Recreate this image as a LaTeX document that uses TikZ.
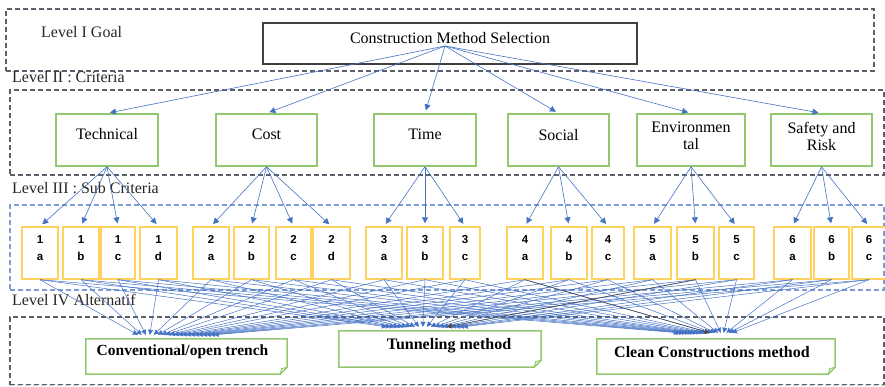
\documentclass[tikz,border=0pt]{standalone}
\usepackage{fontspec}
\setmainfont{Liberation Serif}
\newfontfamily\subfont{Liberation Sans}
\usetikzlibrary{arrows.meta,calc}
\definecolor{arrowblue}{RGB}{68,114,196}
\definecolor{critgreen}{RGB}{146,200,110}
\definecolor{subyellow}{RGB}{255,210,95}
\definecolor{levgray}{RGB}{90,95,105}
\definecolor{levblue}{RGB}{125,155,215}
\definecolor{levlight}{RGB}{200,200,205}
\begin{document}
\begin{tikzpicture}[x=1pt,y=-1pt,
 levelbox/.style={draw=levgray, dash pattern=on 5pt off 3pt, line width=1.3pt, inner sep=0pt},
 levellabel/.style={font=\fontsize{16}{18}\selectfont, text=black!85, anchor=west, inner sep=0pt},
 goalbox/.style={draw=black!75, line width=1.6pt, minimum width=374pt, minimum height=41pt, inner sep=0pt},
 critbox/.style={draw=critgreen, line width=1.5pt, minimum height=52pt, inner sep=0pt},
 bigtext/.style={font=\fontsize{16}{17}\selectfont, align=center, inner sep=0pt},
 subbox/.style={draw=subyellow, line width=1.4pt, minimum height=52pt, inner sep=0pt},
 subtext/.style={font=\subfont\bfseries\fontsize{11.5}{17.5}\selectfont, align=center, inner sep=0pt, anchor=north},
 altbox/.style={inner sep=0pt},
 altline/.style={draw=critgreen, line width=1.5pt},
 alttext/.style={font=\bfseries\fontsize{16}{18}\selectfont, inner sep=0pt},
 conn/.style={draw=arrowblue, line width=0.6pt, shorten >=3pt, -{Triangle[length=6pt,width=6pt]}},
 lconn/.style={draw=arrowblue, line width=0.5pt, -{Triangle[length=5pt,width=5pt]}},
 dconn/.style={draw=black!70, line width=0.6pt, -{Triangle[length=5pt,width=5pt]}},
]
\useasboundingbox (0,0) rectangle (885,386);

% level frames
\node[levelbox, minimum width=868pt, minimum height=62pt] (L1) at (440,40) {};
\node[levelbox, minimum width=874pt, minimum height=85pt] (L2) at (447,132.5) {};
\node[levelbox, draw=levblue, minimum width=874pt, minimum height=85pt] (L3) at (447,247.5) {};
\node[levelbox, minimum width=874pt, minimum height=68pt] (L4) at (447,351) {};
\draw[white, line width=1.6pt] (L4.south west) -- (L4.south east);
\draw[levlight, dash pattern=on 5pt off 3pt, line width=1.3pt] (L4.south west) -- (L4.south east);

\node[levellabel] (l1) at (41,32) {Level I Goal};
\node[levellabel] (l2) at (12,77) {Level II : Criteria};
\node[levellabel] (l3) at (12,188) {Level III : Sub Criteria};
\node[levellabel] (l4) at (12,300) {Level IV Alternatif};

% goal
\node[goalbox] (g) at (450,43.5) {};
\node[bigtext] (gt) at (450,38) {Construction Method Selection};
\coordinate (gsrc) at (445,46);

% criteria
\foreach \nm/\cx/\w/\ty/\txt in {c1/107/102/134/Technical, c2/266.5/101/134/Cost, c3/425/102/134/Time, c4/558.5/101/135/Social, c5/691/108/135.5/{Environmen\\tal}, c6/821.5/101/136/{Safety and\\Risk}}
{
  \node[critbox, minimum width=\w pt] (\nm) at (\cx,140) {};
  \node[bigtext] (\nm t) at (\cx,\ty) {\txt};
  \draw[conn] (gsrc) -- (\nm.north);
}

% sub criteria
\foreach \n/\l/\cx/\w/\p in {1/a/40/36/c1, 1/b/81/36/c1, 1/c/118/34/c1, 1/d/158.5/37/c1,
  2/a/211/36/c2, 2/b/251.5/35/c2, 2/c/293.5/35/c2, 2/d/331.5/37/c2,
  3/a/384/36/c3, 3/b/425/36/c3, 3/c/465/30/c3,
  4/a/525/36/c4, 4/b/569/36/c4, 4/c/608/32/c4,
  5/a/652.5/37/c5, 5/b/695.5/37/c5, 5/c/736.5/35/c5,
  6/a/792.5/37/c6, 6/b/831.5/35/c6, 6/c/869/34/c6}
{
  \node[subbox, minimum width=\w pt] (s\n\l) at (\cx,253) {};
  \node[subtext] (s\n\l t) at (\cx,235) {\n\\\l};
  \draw[conn] (\p.south) -- (s\n\l.north);
}

% alternatives
\node[altbox, minimum width=201pt, minimum height=35pt] (a1) at (186.5,356.5) {};
\node[altbox, minimum width=202pt, minimum height=36pt] (a2) at (440,349) {};
\node[altbox, minimum width=238pt, minimum height=35pt] (a3) at (716,356.5) {};
\foreach \a in {a1,a2,a3}
{
  \draw[altline, line join=miter] (\a.north west) -- (\a.north east) -- ($(\a.south east)+(0,-7)$) -- ($(\a.south east)+(-7,0)$) -- (\a.south west) -- cycle;
  \draw[draw=critgreen, line width=1pt] ($(\a.south east)+(-7,0)$) -- ($(\a.south east)+(-5.5,-5.5)$) -- ($(\a.south east)+(0,-7)$);
}
\node[alttext, font=\bfseries\fontsize{15.5}{18}\selectfont] (a1t) at (182.5,352) {Conventional/open trench};
\node[alttext] (a2t) at (449,346) {Tunneling method};
\node[alttext] (a3t) at (712,352) {Clean Constructions method};

% sub criteria -> alternatives
\foreach \s [count=\i from 0] in {s1a,s1b,s1c,s1d,s2a,s2b,s2c,s2d,s3a,s3b,s3c,s4a,s4b,s4c,s5a,s5b,s5c,s6a,s6b,s6c}
{
  \draw[lconn] (\s.south) -- ($(a1.north west)+({52+4*\i},-4)$);
  \draw[lconn] (\s.south) -- ($(a2.north west)+({48+4*\i},-4)$);
  \draw[lconn] (\s.south) -- ($(a3.north west)+({82+2.8*\i},-6)$);
}
\draw[dconn] (s4a.south) -- ($(a3.north west)+({82+2.8*11},-6)$);
\draw[dconn] (s5b.south) -- ($(a2.north west)+({48+4*15},-4)$);
\end{tikzpicture}
\end{document}
